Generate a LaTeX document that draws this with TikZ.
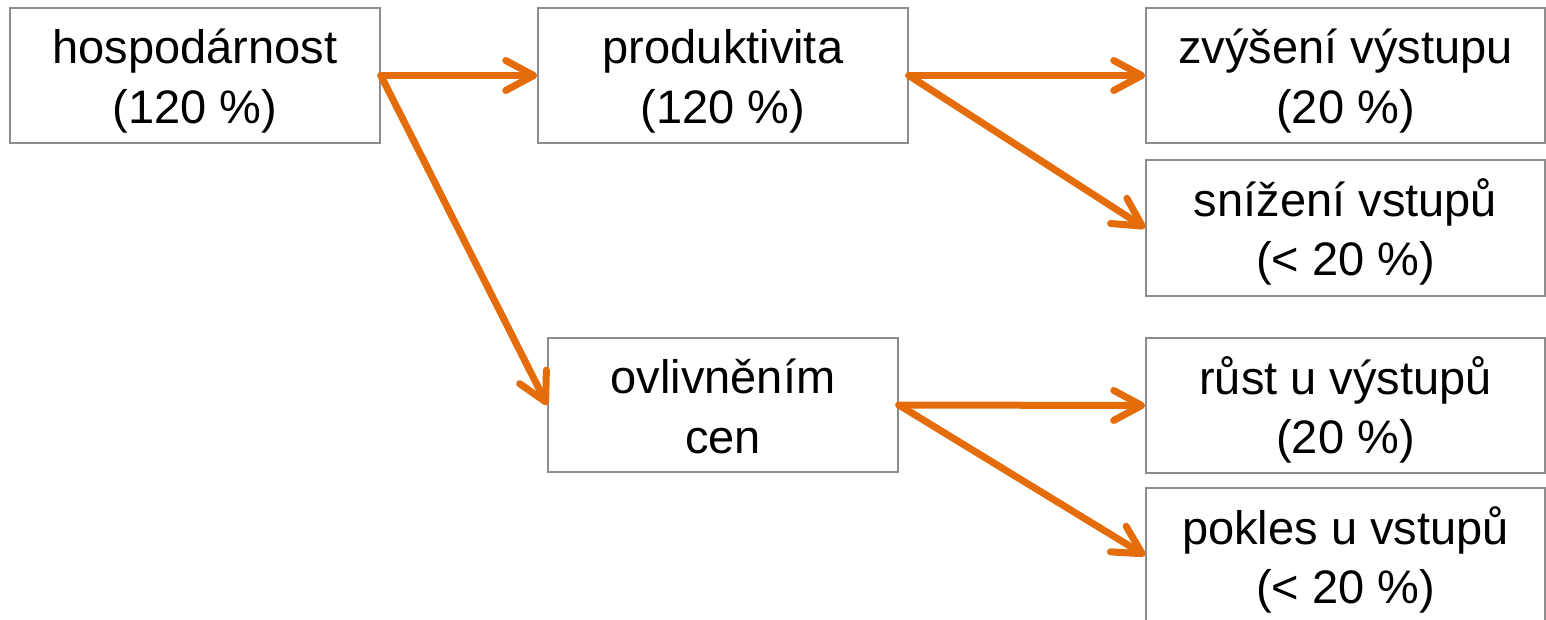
\documentclass[tikz,border=0pt]{standalone}
\usepackage{fontspec}
\setmainfont{Liberation Sans}
\usetikzlibrary{arrows.meta}
\definecolor{boxgray}{HTML}{8C8C8C}
\definecolor{arrorange}{HTML}{E46C0A}
\newcommand{\twolines}[2]{\raisebox{0pt}[40pt][63pt]{\begin{tabular}[t]{@{}c@{}}#1\\#2\end{tabular}}}
\begin{document}
\begin{tikzpicture}[x=1pt,y=-1pt,
  box/.style={draw=boxgray, line width=1.6pt, fill=white, align=center,
    inner sep=0pt, minimum height=135pt,
    font=\fontsize{47}{59.5}\selectfont},
  conn/.style={draw=arrorange, line width=7pt, line cap=round,
    -{Straight Barb[length=28pt,width=30pt,line cap=round,line join=round]}}
]
\useasboundingbox (0,0) rectangle (1546,620);
\node[box, minimum width=370pt] (hosp) at (195,75.5) {\twolines{hospodárnost}{(120 \%)}};
\node[box, minimum width=370pt] (prod) at (723,75.5) {\twolines{produktivita}{(120 \%)}};
\node[box, minimum width=399pt] (zvys) at (1345.5,75.5) {\twolines{zvýšení výstupu}{(20 \%)}};
\node[box, minimum width=399pt, minimum height=136pt] (sniz) at (1345.5,228) {\twolines{snížení vstupů}{(< 20 \%)}};
\node[box, minimum width=350pt, minimum height=134pt] (ovl) at (723,405) {\twolines{ovlivněním}{cen}};
\node[box, minimum width=399pt] (rust) at (1345.5,405.5) {\twolines{růst u výstupů}{(20 \%)}};
\node[box, minimum width=399pt] (pokl) at (1345.5,555.5) {\twolines{pokles u vstupů}{(< 20 \%)}};
\draw[conn] (hosp.east) -- (prod.west);
\draw[conn] (hosp.east) -- (ovl.west);
\draw[conn] (prod.east) -- (zvys.west);
\draw[conn] (prod.east) -- (sniz.west);
\draw[conn] (ovl.east) -- (rust.west);
\draw[conn] (ovl.east) -- (pokl.west);
\end{tikzpicture}
\end{document}
